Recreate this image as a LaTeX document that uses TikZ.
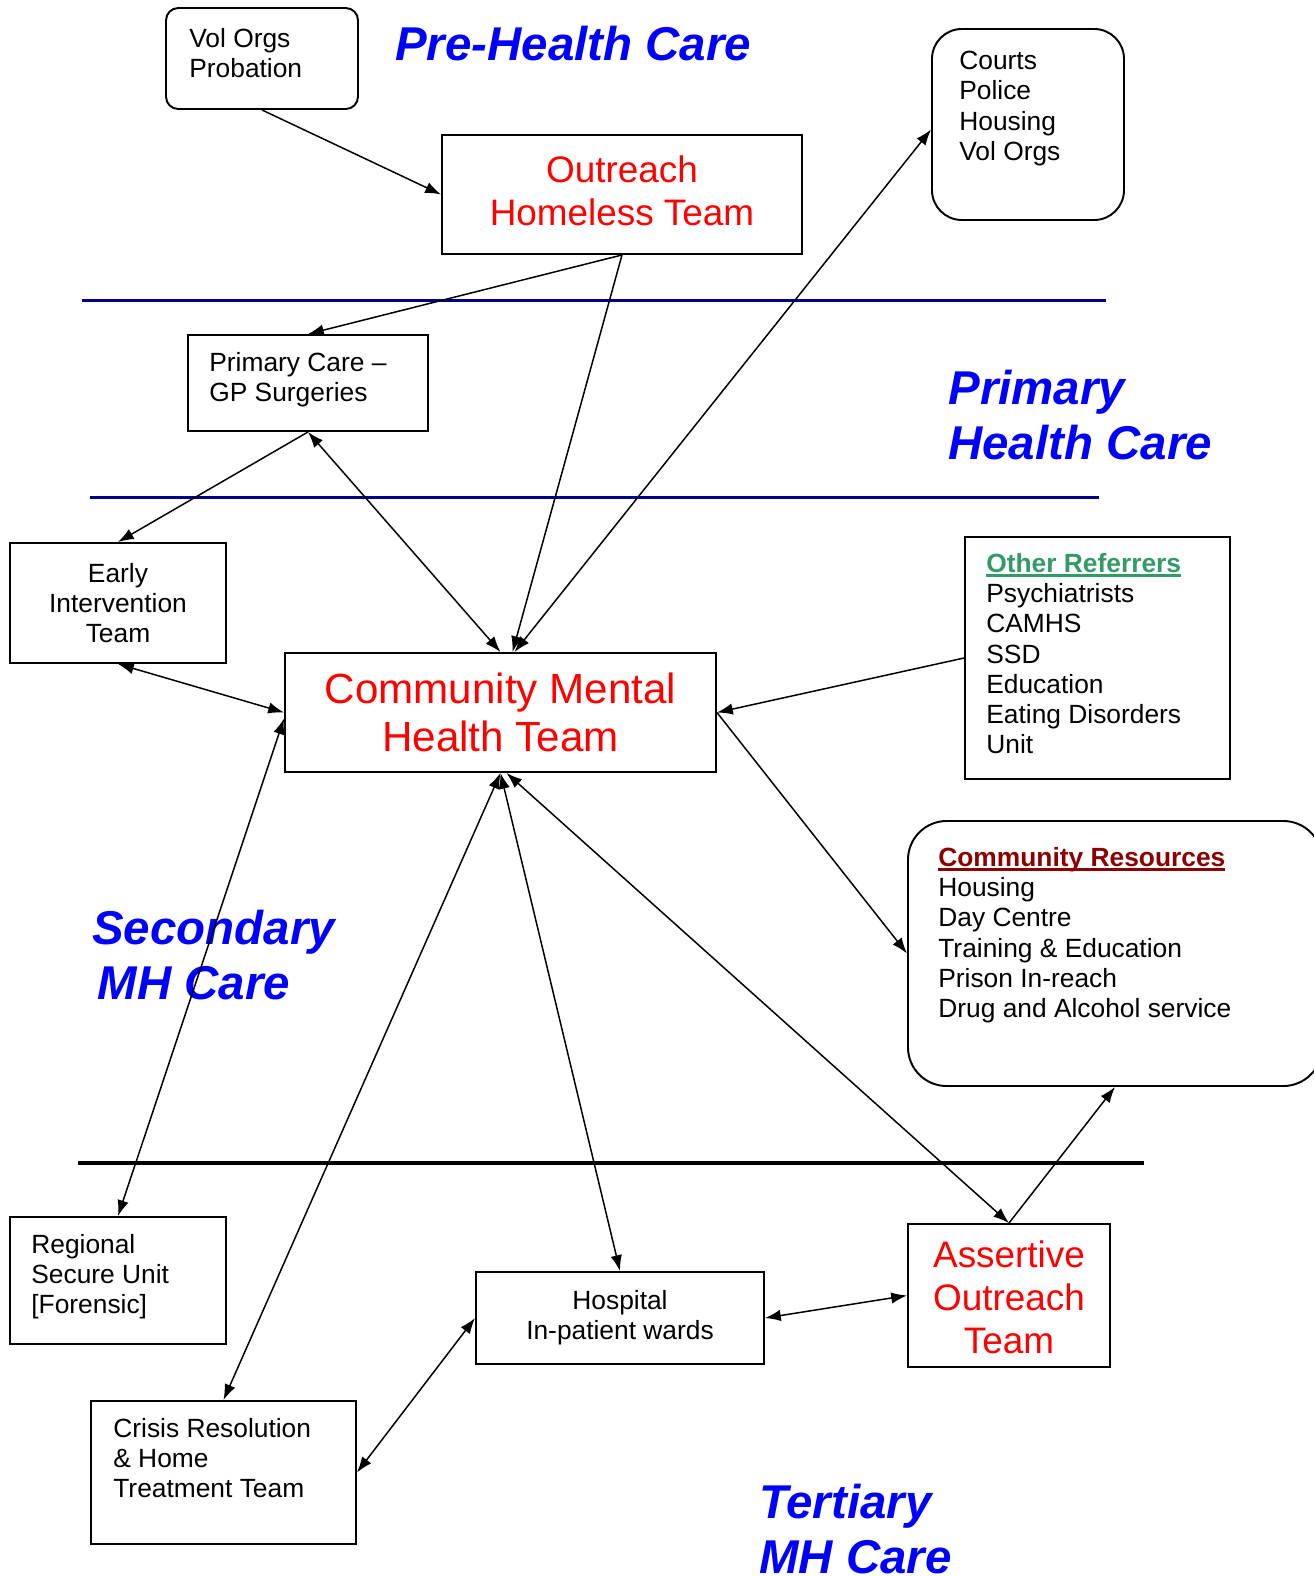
\documentclass[tikz,border=0pt]{standalone}
\usepackage{fontspec}
\setmainfont{Liberation Sans}
\usetikzlibrary{arrows.meta, fit, calc}
\definecolor{care blue}{RGB}{0,0,255}
\definecolor{band blue}{RGB}{0,0,140}
\definecolor{referrer green}{RGB}{51,153,102}
\definecolor{resource red}{RGB}{140,0,0}
\newcommand\ulhead[1]{\setbox0\hbox{#1}\leavevmode\rlap{\rule[-2.6pt]{\wd0}{1.5pt}}\box0}
\tikzset{
  box/.style={draw, line width=1.1pt, inner sep=0pt},
  roundbox/.style={box, rounded corners=#1},
  boxtext/.style={inner sep=0pt, anchor=north west, align=left, font=\fontsize{15}{17.2}\selectfont},
  plaintext/.style={inner sep=0pt, align=center, font=\fontsize{15}{17.2}\selectfont},
  teamtext/.style={inner sep=0pt, text=red, align=center, font=\fontsize{21}{24.4}\selectfont},
  caretext/.style={inner sep=0pt, anchor=north west, align=left, text=care blue,
    font=\fontsize{27}{31.2}\selectfont\bfseries\itshape},
  edge/.style={-{Latex[length=9pt,width=6.5pt]}, line width=0.85pt},
  edgee/.style={{Latex[length=9pt,width=6.5pt]}-{Latex[length=9pt,width=6.5pt]}, line width=0.85pt},
  band/.style={line width=1.7pt, draw=band blue}
}
\begin{document}
\begin{tikzpicture}[x=0.02cm, y=-0.02cm]
  \useasboundingbox (0,0) rectangle (1313,1576);
  % bands
  \draw[band] (82,300) -- (1106,300);
  \draw[band] (90,497) -- (1099,497);
  \draw[line width=2.3pt] (78,1163) -- (1144,1163);
  % care levels
  \node[caretext, anchor=base west] (pre) at (395,60) {Pre-Health Care};
  \node[caretext] (primcare) at (948,370) {Primary\\Health Care};
  \node[caretext] (seccare) at (92,910) {Secondary\\\hspace*{3pt}MH Care};
  \node[caretext] (tercare) at (759,1484) {Tertiary\\MH Care};
  % boxes
  \node[roundbox=7pt, fit={(166,8) (358,109)}] (volorgs) {};
  \node[boxtext] (volorgsT) at (189,28) {Vol Orgs\\Probation};
  \node[box, fit={(442,135) (802,254)}] (outreach) {};
  \node[teamtext] (outreachT) at ([yshift=2pt]outreach.center) {Outreach\\Homeless Team};
  \node[roundbox=17pt, fit={(932,29) (1124,220)}] (courts) {};
  \node[boxtext] (courtsT) at (959,51) {Courts\\Police\\Housing\\Vol Orgs};
  \node[box, fit={(188,335) (428,431)}] (primary) {};
  \node[boxtext] (primaryT) at (209,352) {Primary Care –\\GP Surgeries};
  \node[box, fit={(10,543) (226,663)}] (ei) {};
  \node[plaintext] (eiT) at (ei.center) {Early\\Intervention\\Team};
  \node[box, fit={(285,653) (716,772)}] (cmht) {};
  \node[inner sep=0pt, text=red, align=center, font=\fontsize{24}{27.5}\selectfont]
    (cmhtT) at (cmht.center) {Community Mental\\Health Team};
  \node[box, fit={(965,537) (1230,779)}] (others) {};
  \node[boxtext] (othersT) at (986,553) {{\bfseries\color{referrer green}\ulhead{Other Referrers}}\\
    Psychiatrists\\CAMHS\\SSD\\Education\\Eating Disorders\\Unit};
  \node[roundbox=22pt, fit={(908,821) (1322,1086)}] (resources) {};
  \node[boxtext] (resourcesT) at (938,847) {{\bfseries\color{resource red}\ulhead{Community Resources}}\\
    Housing\\Day Centre\\Training \& Education\\Prison In-reach\\Drug and Alcohol service};
  \node[box, fit={(10,1217) (226,1344)}] (rsu) {};
  \node[boxtext] (rsuT) at (31,1234) {Regional\\Secure Unit\\{[}Forensic{]}};
  \node[box, fit={(476,1272) (764,1364)}] (hospital) {};
  \node[plaintext] (hospitalT) at (hospital.center) {Hospital\\In-patient wards};
  \node[box, fit={(908,1224) (1110,1367)}] (aot) {};
  \node[teamtext] (aotT) at ([yshift=-1pt]aot.center) {Assertive\\Outreach\\Team};
  \node[box, fit={(91,1401) (356,1544)}] (crisis) {};
  \node[boxtext] (crisisT) at (113,1418) {Crisis Resolution\\\& Home\\Treatment Team};
  % connectors
  \draw[edge] (volorgs.south) -- (outreach.west);
  \draw[edge] (outreach.south) -- (primary.north);
  \draw[edge] (outreach.south) -- ($(cmht.north)+(12,0)$);
  \draw[edgee] ($(cmht.north)+(14,0)$) -- ($(courts.west)+(0,5)$);
  \draw[edgee] (primary.south) -- (cmht.north);
  \draw[edge] (primary.south) -- (ei.north);
  \draw[edgee] (ei.south) -- (cmht.west);
  \draw[edge] (others.west) -- (cmht.east);
  \draw[edge] (cmht.east) -- (resources.west);
  \draw[edgee] ($(cmht.west)+(0,6)$) -- (rsu.north);
  \draw[edgee] (cmht.south) -- (crisis.north);
  \draw[edgee] (cmht.south) -- (hospital.north);
  \draw[edgee] ($(cmht.south)+(6,0)$) -- (aot.north);
  \draw[edge] (aot.north) -- (resources.south);
  \draw[edgee] (hospital.east) -- (aot.west);
  \draw[edgee] (crisis.east) -- (hospital.west);
\end{tikzpicture}
\end{document}
